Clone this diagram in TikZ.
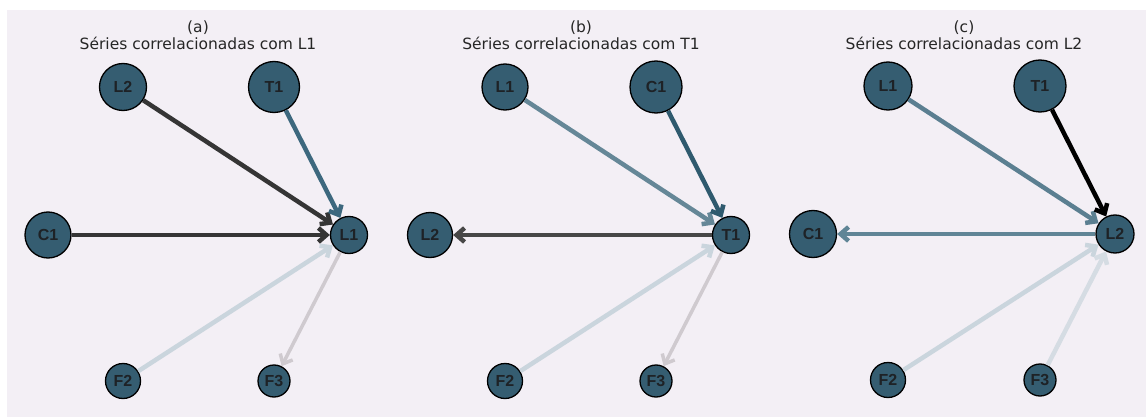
\documentclass[tikz,border=0pt]{standalone}
\usepackage{fontspec}
\setmainfont{DejaVu Sans}
\newfontfamily\labfont{Liberation Sans}
\usetikzlibrary{arrows.meta}

\definecolor{panelbg}{HTML}{F3EFF5}
\definecolor{nodefill}{HTML}{355D71}
\definecolor{titlecol}{HTML}{262626}
\definecolor{labcol}{HTML}{1E2226}
% edge colours
\definecolor{edark}{HTML}{353535}
\definecolor{edarkb}{HTML}{474747}
\definecolor{eteal}{HTML}{3D687E}
\definecolor{etealdeep}{HTML}{2F5A6E}
\definecolor{emid}{HTML}{658797}
\definecolor{emidc}{HTML}{5B7F91}
\definecolor{emidd}{HTML}{608596}
\definecolor{elight}{HTML}{CAD5DD}
\definecolor{elightc}{HTML}{D5DCE3}
\definecolor{egray}{HTML}{CFCACF}

\tikzset{
  x=1pt, y=-1pt,
  vert/.style={circle, draw=black, line width=1.3pt, fill=nodefill, inner sep=0pt,
               font=\labfont\bfseries\fontsize{16}{16}\selectfont, text=labcol},
  edge/.style={line width=#1, -{Straight Barb[length=8pt,width=14pt]}},
  edge/.default=4.5pt,
  paneltitle/.style={font=\fontsize{15.5}{16.5}\selectfont, text=titlecol, align=center}
}

\begin{document}
\begin{tikzpicture}
\useasboundingbox (0,0) rectangle (1146,417);
\fill[panelbg] (7,10) rectangle (1146,417);

% ---------- panel (a) ----------
\node[paneltitle] (ta) at (198,35) {(a)\\Séries correlacionadas com L1};
\node[vert, minimum size=47pt] (aL2) at (123,87) {L2};
\node[vert, minimum size=51pt] (aT1) at (274,87) {T1};
\node[vert, minimum size=46pt] (aC1) at (48,235) {C1};
\node[vert, minimum size=37pt] (aL1) at (349,235) {L1};
\node[vert, minimum size=35pt] (aF2) at (123,381) {F2};
\node[vert, minimum size=32pt] (aF3) at (274,381) {F3};
\draw[edge, draw=elight] (aF2) -- (aL1);
\draw[edge=3.5pt, draw=egray] (aL1) -- (aF3);
\draw[edge, draw=edark] (aL2) -- (aL1);
\draw[edge, draw=eteal] (aT1) -- (aL1);
\draw[edge, draw=edark] (aC1) -- (aL1);

% ---------- panel (b) ----------
\node[paneltitle] (tb) at (581,35) {(b)\\Séries correlacionadas com T1};
\node[vert, minimum size=46pt] (bL1) at (505,87) {L1};
\node[vert, minimum size=52pt] (bC1) at (656,87) {C1};
\node[vert, minimum size=45pt] (bL2) at (430,235) {L2};
\node[vert, minimum size=37pt] (bT1) at (731,235) {T1};
\node[vert, minimum size=35pt] (bF2) at (505,381) {F2};
\node[vert, minimum size=32pt] (bF3) at (656,381) {F3};
\draw[edge, draw=elight] (bF2) -- (bT1);
\draw[edge=3.5pt, draw=egray] (bT1) -- (bF3);
\draw[edge, draw=emid] (bL1) -- (bT1);
\draw[edge, draw=etealdeep] (bC1) -- (bT1);
\draw[edge, draw=edarkb] (bT1) -- (bL2);

% ---------- panel (c) ----------
\node[paneltitle] (tc) at (964,35) {(c)\\Séries correlacionadas com L2};
\node[vert, minimum size=48pt] (cL1) at (888,86) {L1};
\node[vert, minimum size=52pt] (cT1) at (1040,86) {T1};
\node[vert, minimum size=47pt] (cC1) at (813,234) {C1};
\node[vert, minimum size=38pt] (cL2) at (1115,234) {L2};
\node[vert, minimum size=35pt] (cF2) at (888,380) {F2};
\node[vert, minimum size=32pt] (cF3) at (1040,380) {F3};
\draw[edge, draw=elight] (cF2) -- (cL2);
\draw[edge, draw=elightc] (cF3) -- (cL2);
\draw[edge, draw=emidc] (cL1) -- (cL2);
\draw[edge, draw=emidd] (cL2) -- (cC1);
\draw[edge, draw=black] (cT1) -- (cL2);
\end{tikzpicture}
\end{document}
